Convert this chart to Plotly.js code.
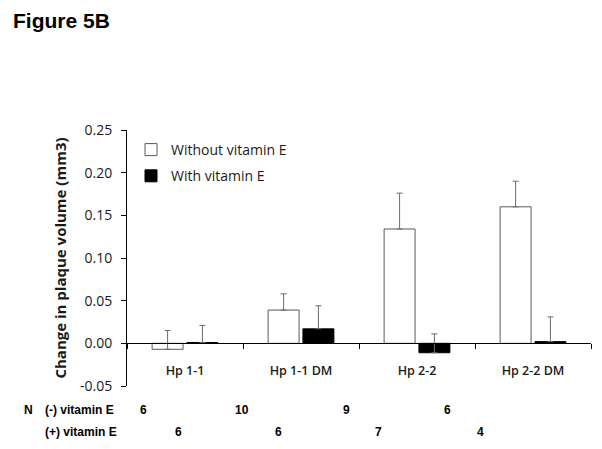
<!DOCTYPE html>
<html>
<head>
<meta charset="utf-8">
<script src="https://cdn.plot.ly/plotly-3.0.1.min.js"></script>
<style>html,body{margin:0;padding:0;background:#fff;}#chart{width:602px;height:449px;}</style>
</head>
<body>
<div id="chart"></div>
<script>
// ---- data ----
var categories = ["Hp 1-1", "Hp 1-1 DM", "Hp 2-2", "Hp 2-2 DM"];
var withoutVitE = [-0.007, 0.039, 0.134, 0.160];
var withoutVitEErr = [0.022, 0.019, 0.042, 0.030];
var withVitE = [0.001, 0.017, -0.011, 0.002];
var withVitEErr = [0.020, 0.027, 0.022, 0.029];
var nWithout = ["6", "10", "9", "6"];
var nWith = ["6", "6", "7", "4"];
var seriesNames = ["Without vitamin E", "With vitamin E"];
var rowLabels = ["(-) vitamin E", "(+) vitamin E"];
var yTickVals = [-0.05, 0, 0.05, 0.10, 0.15, 0.20, 0.25];
var yTickText = ["-0.05", "0.00", "0.05", "0.10", "0.15", "0.20", "0.25"];

// ---- layout helpers (pixel positions of the N table) ----
var L = 127, R = 591, T = 130, B = 386;
function px(x) { return (x - L) / (R - L); }
function py(y) { return (B - y) / (B - T); }
var nRowY = [410, 432];
var nWithoutX = [143, 242, 346, 447];
var nWithX = [178, 278, 378, 480];

var errStyle = {type: "data", symmetric: false, color: "#6b6b6b", thickness: 1, width: 3};

var traces = [
  {
    type: "bar", name: seriesNames[0], x: categories, y: withoutVitE,
    marker: {color: "#ffffff", line: {color: "#5a5a5a", width: 1}},
    error_y: Object.assign({array: withoutVitEErr, arrayminus: withoutVitEErr.map(function(){return 0;})}, errStyle),
    legendgroup: "a"
  },
  {
    type: "bar", name: seriesNames[1], x: categories, y: withVitE,
    marker: {color: "#000000", line: {color: "#000000", width: 1}},
    error_y: Object.assign({array: withVitEErr, arrayminus: withVitEErr.map(function(){return 0;})}, errStyle),
    legendgroup: "b"
  }
];

var annFont = {family: "Liberation Sans, Arial, sans-serif", size: 12, color: "#000"};
var annotations = [];
annotations.push({xref: "paper", yref: "paper", x: px(28), y: py(nRowY[0]), text: "<b>N</b>", showarrow: false, font: annFont, xanchor: "center", yanchor: "middle"});
rowLabels.forEach(function (t, i) {
  annotations.push({xref: "paper", yref: "paper", x: px(43), y: py(nRowY[i]), text: "<b>" + t + "</b>", showarrow: false, font: annFont, xanchor: "left", yanchor: "middle"});
});
nWithout.forEach(function (t, i) {
  annotations.push({xref: "paper", yref: "paper", x: px(nWithoutX[i]), y: py(nRowY[0]), text: "<b>" + t + "</b>", showarrow: false, font: annFont, xanchor: "center", yanchor: "middle"});
});
nWith.forEach(function (t, i) {
  annotations.push({xref: "paper", yref: "paper", x: px(nWithX[i]), y: py(nRowY[1]), text: "<b>" + t + "</b>", showarrow: false, font: annFont, xanchor: "center", yanchor: "middle"});
});
annotations.push({xref: "paper", yref: "paper", x: px(11), y: py(20), text: "<b>Figure 5B</b>", showarrow: false,
  font: {family: "Liberation Sans, Arial, sans-serif", size: 21, color: "#000"}, xanchor: "left", yanchor: "middle"});

var layout = {
  width: 602, height: 449,
  margin: {l: L, r: 602 - R, t: T, b: 449 - B, pad: 0},
  paper_bgcolor: "#fff", plot_bgcolor: "#fff",
  font: {family: "Open Sans, sans-serif", size: 12, color: "#1a1a1a"},
  barmode: "group", bargap: 0.4, bargroupgap: 0.11,
  showlegend: true,
  legend: {x: px(131), y: py(134), xanchor: "left", yanchor: "top", bgcolor: "rgba(0,0,0,0)",
    font: {family: "Open Sans, sans-serif", size: 14, color: "#1a1a1a"}, traceorder: "grouped", tracegroupgap: 5},
  xaxis: {
    anchor: "free", position: 1 / 6, showline: true, linecolor: "#000", linewidth: 1,
    ticks: "outside", tickson: "boundaries", ticklen: 5, tickcolor: "#000",
    showgrid: false, zeroline: false, ticklabelstandoff: 16,
    tickfont: {family: "Open Sans, sans-serif", size: 12.5, color: "#1a1a1a", weight: 600}
  },
  yaxis: {
    range: [-0.05, 0.25], tickmode: "array", tickvals: yTickVals, ticktext: yTickText,
    showline: true, linecolor: "#000", linewidth: 1,
    ticks: "outside", ticklen: 5, tickcolor: "#000", showgrid: false, zeroline: false,
    ticklabelstandoff: 6,
    tickfont: {family: "Open Sans, sans-serif", size: 14, color: "#1a1a1a"},
    title: {text: "Change in plaque volume (mm3)", standoff: 9,
      font: {family: "Open Sans, sans-serif", size: 15, color: "#1a1a1a", weight: "bold"}}
  },
  annotations: annotations
};

Plotly.newPlot("chart", traces, layout, {displayModeBar: false, staticPlot: true});
</script>
</body>
</html>
